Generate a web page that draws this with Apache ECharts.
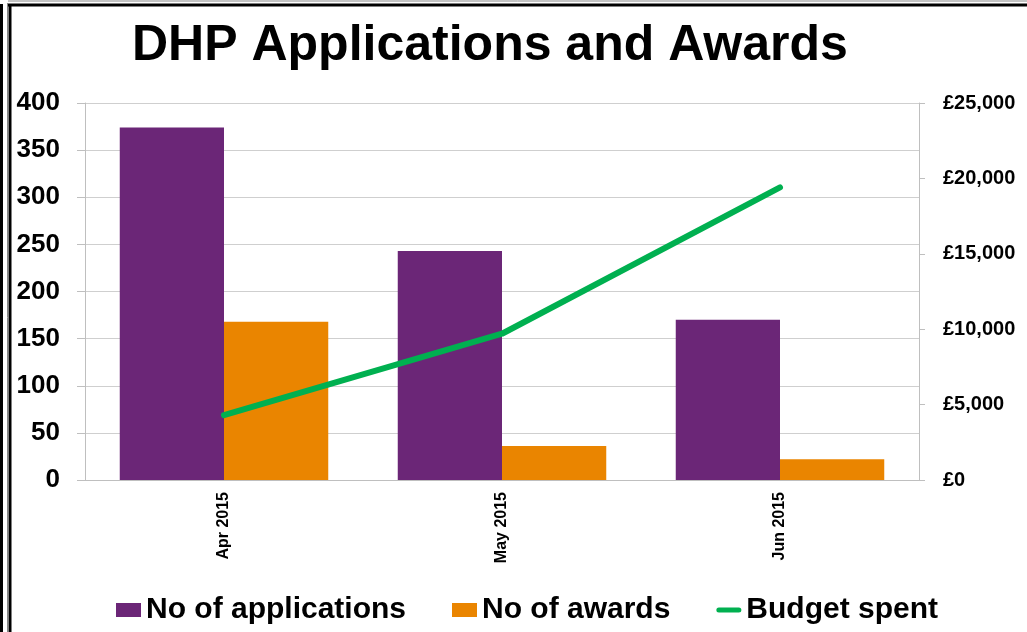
<!DOCTYPE html>
<html>
<head>
<meta charset="utf-8">
<style>
  html, body { margin: 0; padding: 0; background: #fff; }
  #main { width: 1027px; height: 632px; }
</style>
</head>
<body>
<div id="main"></div>
<script src="https://cdn.jsdelivr.net/npm/echarts@6/dist/echarts.min.js"></script>
<script type="text/javascript">
    // data
    var months = ['Apr 2015', 'May 2015', 'Jun 2015'];
    var applications = [374, 243, 170];
    var awards = [168, 36, 22];
    var budget = [4300, 9700, 19400];

    var myChart = echarts.init(document.getElementById('main'));
    var font = '"Liberation Sans", Arial, sans-serif';

    var option = {
        backgroundColor: '#fff',
        animation: false,
        title: {
            text: 'DHP Applications and Awards',
            left: 127,
            top: 16,
            textStyle: { fontFamily: font, fontSize: 50, fontWeight: 'bold', color: '#000' }
        },
        legend: {
            left: 111,
            top: 590,
            itemWidth: 25,
            itemHeight: 14,
            itemGap: 46,
            textStyle: { fontFamily: font, fontSize: 30, fontWeight: 'bold', color: '#000' },
            data: [
                { name: 'No of applications', icon: 'rect' },
                { name: 'No of awards', icon: 'rect' },
                { name: 'Budget spent', icon: 'path://M2.5,0h20a2.5,2.5,0,0,1,0,5h-20a2.5,2.5,0,0,1,0,-5z' }
            ]
        },
        grid: { left: 85, right: 108, top: 103, bottom: 152 },
        xAxis: {
            type: 'category',
            data: months,
            axisLine: { lineStyle: { color: '#bfbfbf' } },
            axisTick: { length: 8, lineStyle: { color: '#bfbfbf' } },
            axisLabel: {
                rotate: 90, margin: 12, color: '#000',
                fontFamily: font, fontSize: 16, fontWeight: 'bold'
            }
        },
        yAxis: [{
            type: 'value',
            min: 0, max: 400, interval: 50,
            axisLine: { show: true, lineStyle: { color: '#bfbfbf' } },
            axisTick: { show: true, length: 8, lineStyle: { color: '#bfbfbf' } },
            axisLabel: { margin: 25, color: '#000', fontFamily: font, fontSize: 26, fontWeight: 'bold' },
            splitLine: { lineStyle: { color: '#cfcfcf' } }
        }, {
            type: 'value',
            min: 0, max: 25000, interval: 5000,
            axisLine: { show: true, lineStyle: { color: '#bfbfbf' } },
            axisTick: { show: true, length: 6, lineStyle: { color: '#bfbfbf' } },
            axisLabel: {
                margin: 24, color: '#000', fontFamily: font, fontSize: 20, fontWeight: 'bold',
                formatter: function (v) { return '£' + v.toLocaleString('en-GB'); }
            },
            splitLine: { show: false }
        }],
        series: [{
            name: 'No of applications',
            type: 'bar',
            data: applications,
            barGap: '0%',
            barCategoryGap: '25%',
            itemStyle: { color: '#6b2677' }
        }, {
            name: 'No of awards',
            type: 'bar',
            data: awards,
            itemStyle: { color: '#ea8500' }
        }, {
            name: 'Budget spent',
            type: 'line',
            yAxisIndex: 1,
            data: budget,
            symbol: 'none',
            itemStyle: { color: '#00b050' },
            lineStyle: { width: 6, color: '#00b050', cap: 'round' },
            z: 5
        }],
        // frame around the picture
        graphic: [
            { type: 'line', shape: { x1: 1.5, y1: 4, x2: 1.5, y2: 632 }, style: { stroke: '#000', lineWidth: 3 } },
            { type: 'line', shape: { x1: 0, y1: 585, x2: 3, y2: 585 }, style: { stroke: '#000', lineWidth: 2 } },
            { type: 'line', shape: { x1: 7.5, y1: 3, x2: 7.5, y2: 632 }, style: { stroke: '#888', lineWidth: 1 } },
            { type: 'line', shape: { x1: 10, y1: 4, x2: 10, y2: 632 }, style: { stroke: '#000', lineWidth: 3 } },
            { type: 'line', shape: { x1: 8, y1: 1, x2: 1027, y2: 1 }, style: { stroke: '#888', lineWidth: 1 } },
            { type: 'line', shape: { x1: 8, y1: 5, x2: 1027, y2: 5 }, style: { stroke: '#000', lineWidth: 3 } }
        ]
    };
    myChart.setOption(option);
</script>
</body>
</html>
